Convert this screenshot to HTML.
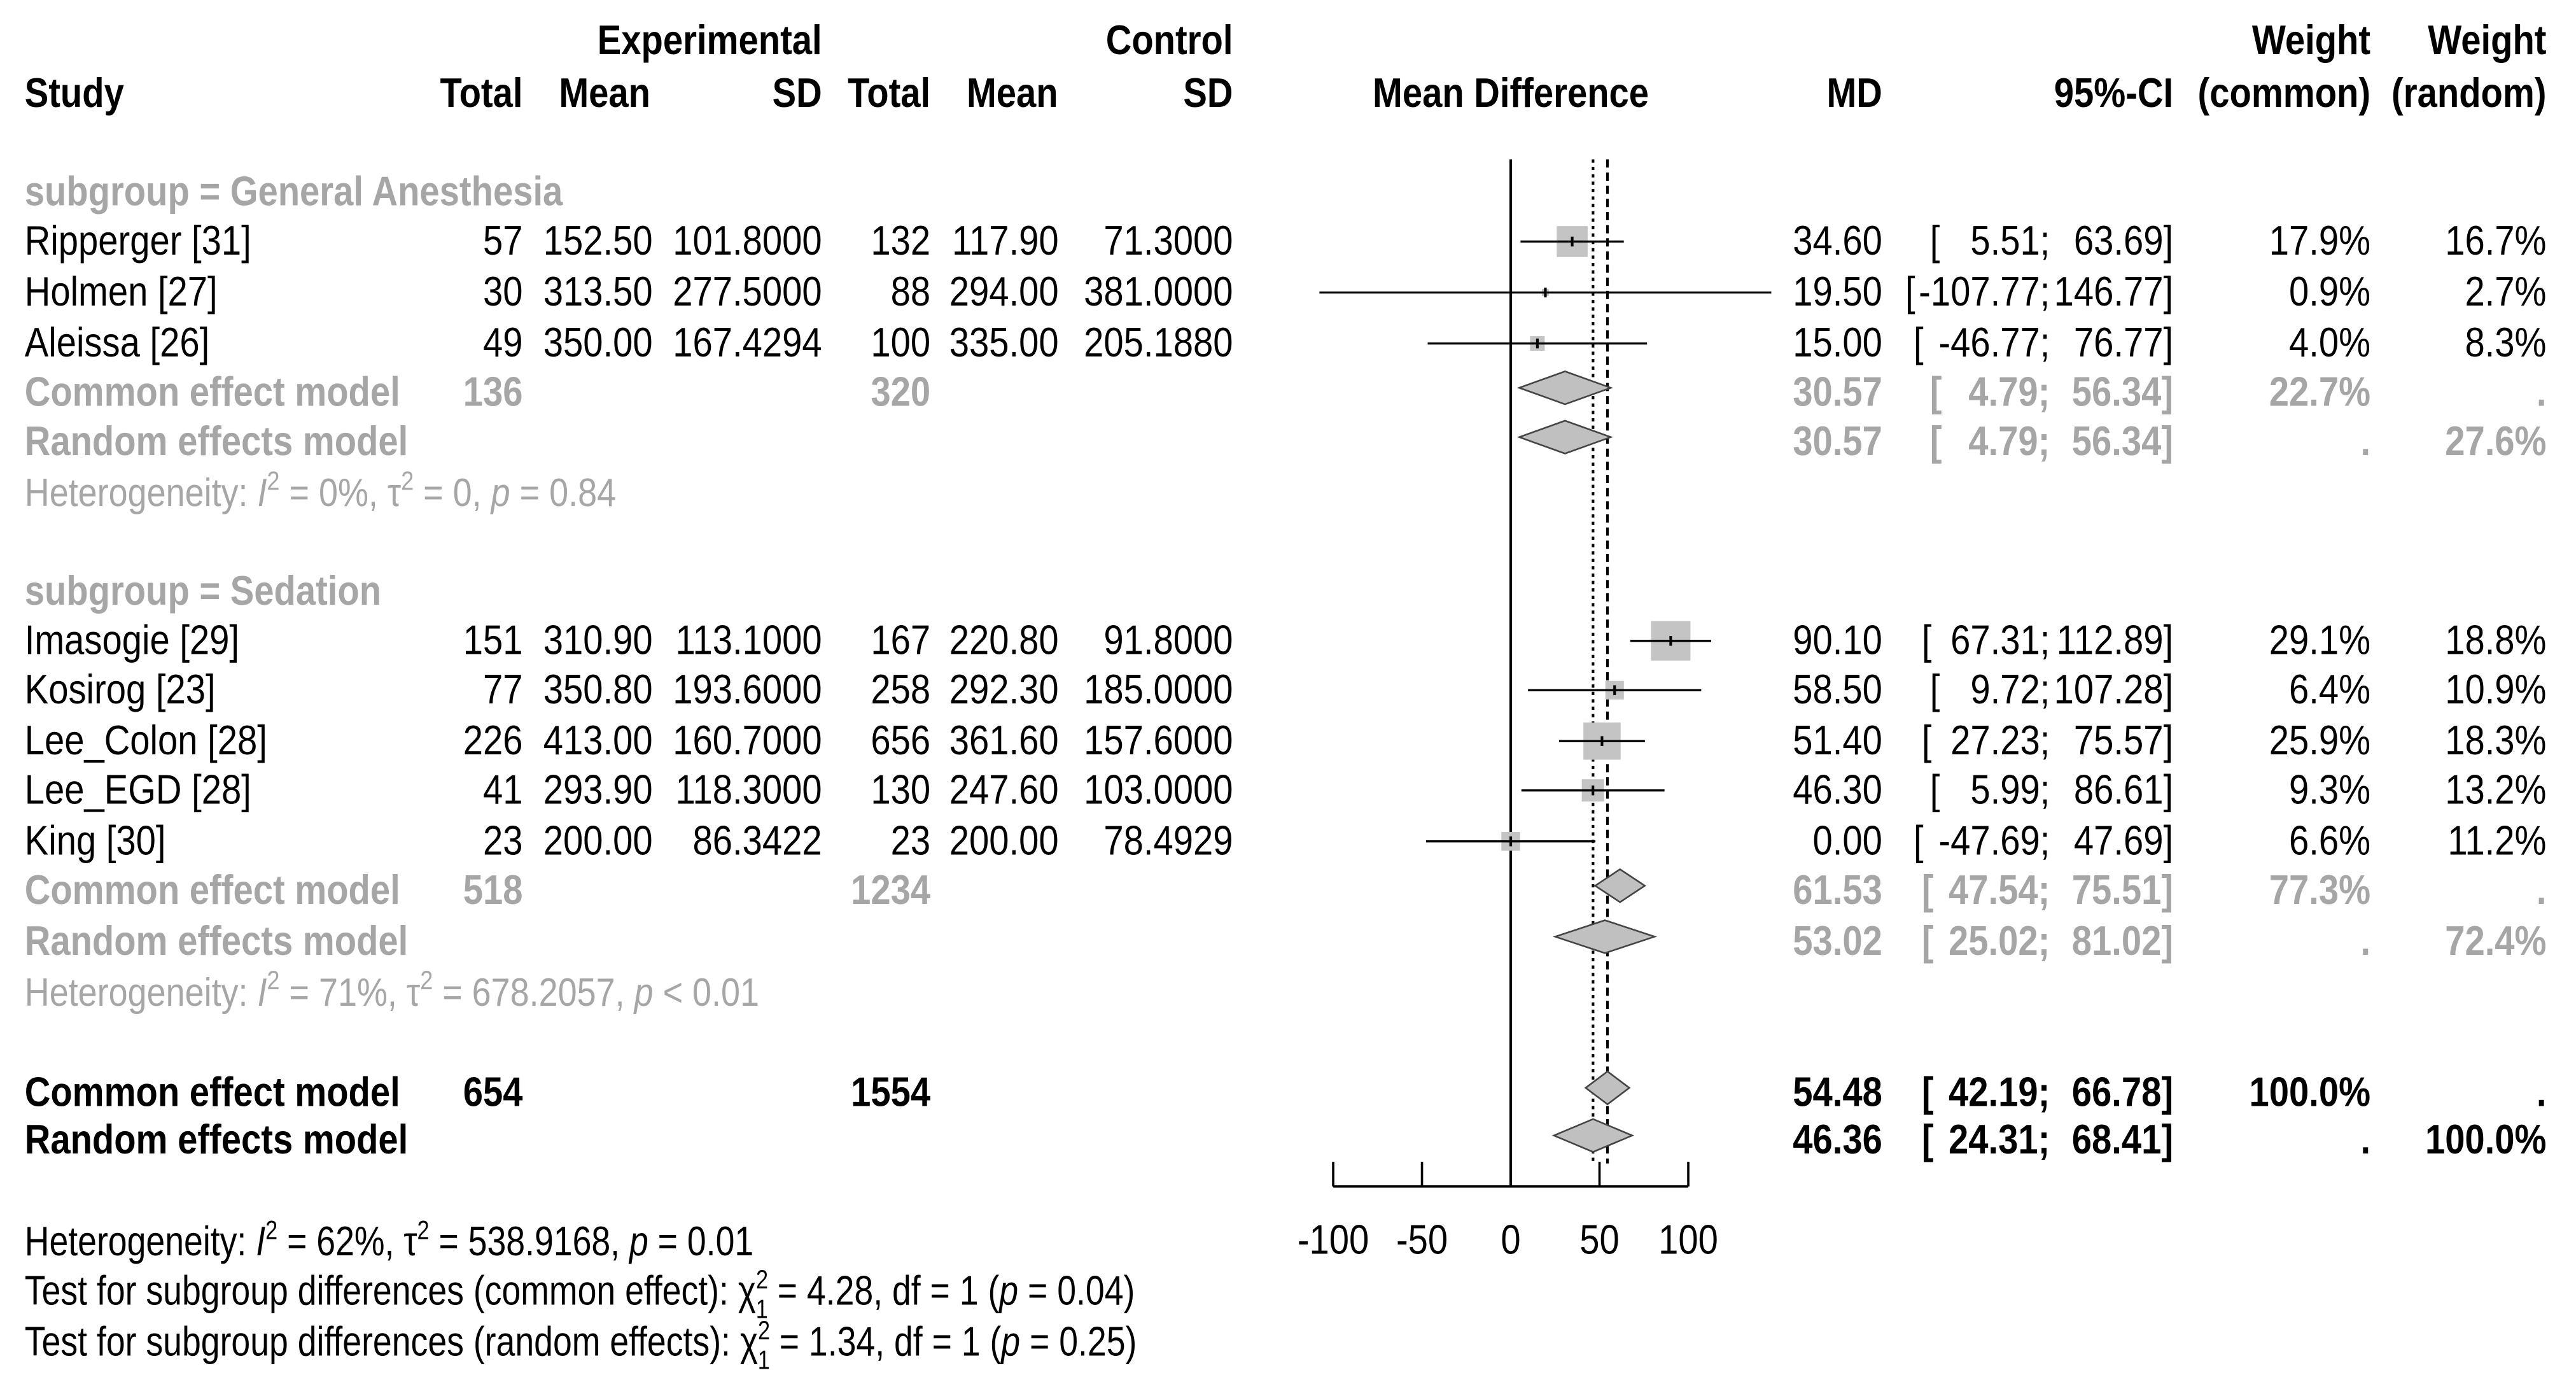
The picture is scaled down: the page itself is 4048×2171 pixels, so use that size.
<!DOCTYPE html>
<html><head><meta charset="utf-8"><style>
html,body{margin:0;padding:0;background:#fff;}
svg{display:block;}
text{font-family:"Liberation Sans",sans-serif;}
</style></head><body>
<svg id="chart" width="4048" height="2171" viewBox="0 0 1567 841" preserveAspectRatio="none" xmlns="http://www.w3.org/2000/svg">
<rect width="1567" height="841" fill="#fff"/>
<g id="txt"></g>
<g id="plot"></g>
</svg>
<script>
// ---- data ----
const studyNames = ["Ripperger [31]","Holmen  [27]","Aleissa [26]","Imasogie [29]","Kosirog [23]","Lee_Colon [28]","Lee_EGD [28]","King [30]"];
const studyRowY = [147,178,209,390,420,451,481,512];
const expTotal = ["57","30","49","151","77","226","41","23"];
const expMean = ["152.50","313.50","350.00","310.90","350.80","413.00","293.90","200.00"];
const expSD = ["101.8000","277.5000","167.4294","113.1000","193.6000","160.7000","118.3000","86.3422"];
const ctlTotal = ["132","88","100","167","258","656","130","23"];
const ctlMean = ["117.90","294.00","335.00","220.80","292.30","361.60","247.60","200.00"];
const ctlSD = ["71.3000","381.0000","205.1880","91.8000","185.0000","157.6000","103.0000","78.4929"];
const md = [34.60,19.50,15.00,90.10,58.50,51.40,46.30,0.00];
const ciLo = [5.51,-107.77,-46.77,67.31,9.72,27.23,5.99,-47.69];
const ciHi = [63.69,146.77,76.77,112.89,107.28,75.57,86.61,47.69];
const wCommon = [17.9,0.9,4.0,29.1,6.4,25.9,9.3,6.6];
const wRandom = [16.7,2.7,8.3,18.8,10.9,18.3,13.2,11.2];

const poolNames = ["Common effect model","Random effects model","Common effect model","Random effects model","Common effect model","Random effects model"];
const poolY = [239,269,542,573,665,694];
const poolMD = [30.57,30.57,61.53,53.02,54.48,46.36];
const poolLo = [4.79,4.79,47.54,25.02,42.19,24.31];
const poolHi = [56.34,56.34,75.51,81.02,66.78,68.41];
const poolWC = ["22.7%",".","77.3%",".","100.0%","."];
const poolWR = [".","27.6%",".","72.4%",".","100.0%"];
const poolExpN = ["136","","518","","654",""];
const poolCtlN = ["320","","1234","","1554",""];
const poolBold = [false,false,false,false,true,true];

const xTicks = [-100,-50,0,50,100];
const refCommon = 54.48, refRandom = 46.36;

// ---- scales ----
const X0 = 919, XU = 1.08;
function xs(v){ return X0 + v*XU; }
const SX = 0.87, FS = 25;
const NS = "http://www.w3.org/2000/svg";
const txt = document.getElementById('txt');
const plot = document.getElementById('plot');
function T(x,y,s,anchor,color,bold,name){
  const t = document.createElementNS(NS,'text');
  t.setAttribute('transform','translate('+x+','+(y+8)+') scale('+SX+',1)');
  t.setAttribute('font-size',FS);
  t.setAttribute('text-anchor',anchor||'start');
  t.setAttribute('fill',color||'#000');
  if(bold) t.setAttribute('font-weight','bold');
  t.textContent = s;
  
  
  txt.appendChild(t);
  return t;
}
function L(x1,y1,x2,y2,w,dash,name){
  const l = document.createElementNS(NS,'line');
  l.setAttribute('x1',x1);l.setAttribute('y1',y1);l.setAttribute('x2',x2);l.setAttribute('y2',y2);
  l.setAttribute('stroke','#000');l.setAttribute('stroke-width',w);
  if(dash) l.setAttribute('stroke-dasharray',dash);
  
  
  plot.appendChild(l);
  return l;
}
function fmt(v){ return v.toFixed(2); }
function ci(y,lo,hi,color,bold){
  const los = fmt(lo), his = fmt(hi);
  T(1159 + (7-los.length)*5, y, '[', 'start', color, bold, 'ci-bracket');
  T(1247, y, los+';', 'end', color, bold, 'ci-lower');
  T(1322, y, his+']', 'end', color, bold, 'ci-upper');
}

// ---- headers ----
T(500,25,'Experimental','end','#000',true,'experimental-header');
T(750,25,'Control','end','#000',true,'control-header');
T(1442,25,'Weight','end','#000',true,'weight-common-header');
T(1549,25,'Weight','end','#000',true,'weight-random-header');
T(15,57,'Study','start','#000',true,'study-header');
T(318,57,'Total','end','#000',true,'exp-total-header');
T(340,57,'Mean','start','#000',true,'exp-mean-header');
T(500,57,'SD','end','#000',true,'exp-sd-header');
T(566,57,'Total','end','#000',true,'ctl-total-header');
T(588,57,'Mean','start','#000',true,'ctl-mean-header');
T(750,57,'SD','end','#000',true,'ctl-sd-header');
T(919,57,'Mean Difference','middle','#000',true,'mean-difference-header');
T(1145,57,'MD','end','#000',true,'md-header');
T(1322,57,'95%-CI','end','#000',true,'ci-header');
T(1442,57,'(common)','end','#000',true,'weight-common-subheader');
T(1549,57,'(random)','end','#000',true,'weight-random-subheader');

const G = '#a6a6a6';
T(15,117,'subgroup = General Anesthesia','start',G,true,'subgroup-general-anesthesia');
T(15,360,'subgroup = Sedation','start',G,true,'subgroup-sedation');

// ---- study rows ----
for(let i=0;i<studyNames.length;i++){
  const y = studyRowY[i];
  T(15,y,studyNames[i],'start','#000',false,'study-name');
  T(318,y,expTotal[i],'end','#000',false,'exp-total');
  T(397,y,expMean[i],'end','#000',false,'exp-mean');
  T(500,y,expSD[i],'end','#000',false,'exp-sd');
  T(566,y,ctlTotal[i],'end','#000',false,'ctl-total');
  T(644,y,ctlMean[i],'end','#000',false,'ctl-mean');
  T(750,y,ctlSD[i],'end','#000',false,'ctl-sd');
  T(1145,y,fmt(md[i]),'end','#000',false,'md-value');
  ci(y,ciLo[i],ciHi[i],'#000',false);
  T(1442,y,wCommon[i].toFixed(1)+'%','end','#000',false,'weight-common');
  T(1549,y,wRandom[i].toFixed(1)+'%','end','#000',false,'weight-random');
}
// ---- pooled rows ----
for(let i=0;i<poolNames.length;i++){
  const y = poolY[i], c = poolBold[i]?'#000':G, b = true;
  T(15,y,poolNames[i],'start',c,b,'pooled-model-name');
  if(poolExpN[i]) T(318,y,poolExpN[i],'end',c,b,'pooled-exp-total');
  if(poolCtlN[i]) T(566,y,poolCtlN[i],'end',c,b,'pooled-ctl-total');
  T(1145,y,fmt(poolMD[i]),'end',c,b,'pooled-md');
  ci(y,poolLo[i],poolHi[i],c,b);
  T(1442,y,poolWC[i],'end',c,b,'pooled-weight-common');
  T(1549,y,poolWR[i],'end',c,b,'pooled-weight-random');
}

// ---- reference lines ----
L(X0,97,X0,722,1.6,null,'null-effect-line');
L(xs(refRandom),97,xs(refRandom),708,1.6,'2,2.5','random-effect-line');
L(xs(refCommon),97,xs(refCommon),708,1.6,'5,3','common-effect-line');

// ---- axis ----
L(xs(xTicks[0]),722,xs(xTicks[xTicks.length-1]),722,1.4,null,'x-axis-line');
for(const v of xTicks){
  L(xs(v),707,xs(v),722,1.4,null,'x-axis-tick');
  T(xs(v),755,String(v),'middle','#000',false,'x-tick-label');
}

// ---- study marks ----
for(let i=0;i<md.length;i++){
  const y = studyRowY[i], s = Math.sqrt(wCommon[i])*4.45;
  const r = document.createElementNS(NS,'rect');
  r.setAttribute('x',xs(md[i])-s/2);r.setAttribute('y',y-s/2);
  r.setAttribute('width',s);r.setAttribute('height',s);r.setAttribute('fill','#c4c4c4');
  
  
  plot.appendChild(r);
  L(xs(ciLo[i]),y,xs(ciHi[i]),y,1.3,null,'ci-whisker');
  L(xs(md[i]),y-3,xs(md[i]),y+3,1.6,null,'md-tick');
}
// ---- diamonds ----
for(let i=0;i<poolMD.length;i++){
  const y = poolY[i]-3;
  const p = document.createElementNS(NS,'polygon');
  p.setAttribute('points',[xs(poolLo[i])+','+y, xs(poolMD[i])+','+(y-10), xs(poolHi[i])+','+y, xs(poolMD[i])+','+(y+10)].join(' '));
  p.setAttribute('fill','#c0c0c0');p.setAttribute('stroke','#444');p.setAttribute('stroke-width','1');
  
  
  plot.appendChild(p);
}
</script>
<svg style="position:absolute;left:0;top:0" width="4048" height="2171" viewBox="0 0 1567 841" preserveAspectRatio="none" xmlns="http://www.w3.org/2000/svg">
<g font-family="Liberation Sans, sans-serif" font-size="25">
<text transform="translate(15,308) scale(0.87,1)" fill="#a6a6a6" font-size="24">Heterogeneity: <tspan font-style="italic">I</tspan><tspan dy="-10" font-size="16">2</tspan><tspan dy="10"> = 0%, τ</tspan><tspan dy="-10" font-size="16">2</tspan><tspan dy="10"> = 0, </tspan><tspan font-style="italic">p</tspan> = 0.84</text>
<text transform="translate(15,612) scale(0.87,1)" fill="#a6a6a6" font-size="24">Heterogeneity: <tspan font-style="italic">I</tspan><tspan dy="-10" font-size="16">2</tspan><tspan dy="10"> = 71%, τ</tspan><tspan dy="-10" font-size="16">2</tspan><tspan dy="10"> = 678.2057, </tspan><tspan font-style="italic">p</tspan> &lt; 0.01</text>
<text transform="translate(15,764) scale(0.83,1)" fill="#000">Heterogeneity: <tspan font-style="italic">I</tspan><tspan dy="-10" font-size="16">2</tspan><tspan dy="10"> = 62%, τ</tspan><tspan dy="-10" font-size="16">2</tspan><tspan dy="10"> = 538.9168, </tspan><tspan font-style="italic">p</tspan> = 0.01</text>
<text transform="translate(15,794) scale(0.83,1)" fill="#000">Test for subgroup differences (common effect): χ<tspan dy="-10" font-size="16">2</tspan><tspan dy="18" dx="-9" font-size="16">1</tspan><tspan dy="-8"> = 4.28, df = 1 (</tspan><tspan font-style="italic">p</tspan> = 0.04)</text>
<text transform="translate(15,825) scale(0.83,1)" fill="#000">Test for subgroup differences (random effects): χ<tspan dy="-10" font-size="16">2</tspan><tspan dy="18" dx="-9" font-size="16">1</tspan><tspan dy="-8"> = 1.34, df = 1 (</tspan><tspan font-style="italic">p</tspan> = 0.25)</text>
</g>
</svg>
</body></html>
